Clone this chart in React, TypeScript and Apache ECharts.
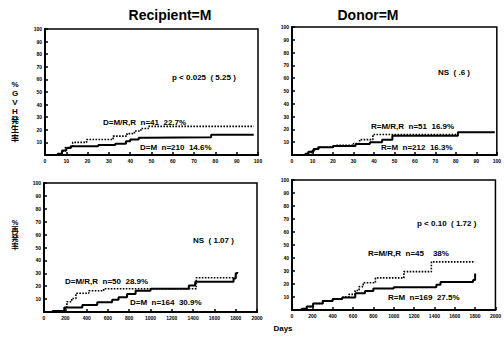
import React, { useEffect, useRef } from 'react';
import * as echarts from 'echarts';

// Panel titles and axis labels
const columnTitles = ['Recipient=M', 'Donor=M'];
const gvhdAxisTitle = ['%', 'G', 'V', 'H', '\u767A', '\u751F', '\u7387'];
const relapseAxisTitle = ['%', '\u518D', '\u767A', '\u7387'];
const xAxisTitle = 'Days';

// Panel 1: GVHD, Recipient=M (days 0-100)
const p1SolidDays = [0, 6, 8, 10, 12, 25, 33, 38, 40, 44, 48, 78, 98];
const p1SolidPct = [0, 1, 3.5, 5.5, 7, 8, 9, 11, 12.3, 13.6, 14, 16, 16];
const p1DotDays = [0, 8, 9.5, 13, 19.5, 32, 38.5, 42, 45, 48.5, 98];
const p1DotPct = [0, 3, 6, 10, 12.3, 15, 17, 19, 21, 22.7, 22.7];

// Panel 2: GVHD, Donor=M (days 0-100)
const p2SolidDays = [0, 6.5, 8, 10.5, 13, 20, 31, 38, 44, 49, 81, 99];
const p2SolidPct = [0, 1, 2.5, 4.6, 6, 7, 8.5, 10, 12, 15, 17.8, 17.8];
const p2DotDays = [0, 8, 10, 12, 21, 30, 33, 39.5, 81];
const p2DotPct = [0, 2, 4, 6, 7.5, 9, 12, 16, 16];

// Panel 3: relapse, Recipient=M (days 0-2000)
const p3SolidDays = [0, 80, 190, 360, 500, 640, 700, 780, 860, 1000, 1360, 1420, 1780, 1800, 1815];
const p3SolidPct = [0, 0.8, 3.5, 5.5, 7.5, 9.5, 11.5, 14, 16.5, 18, 20.5, 23.5, 26, 30, 31];
const p3DotDays = [0, 200, 215, 260, 300, 420, 560, 1420, 1430, 1780, 1800, 1812];
const p3DotPct = [0, 3, 8, 10.5, 14.5, 16.5, 18, 18, 26.5, 27, 29, 29];

// Panel 4: relapse, Donor=M (days 0-2000)
const p4SolidDays = [0, 96, 144, 207, 303, 400, 494, 622, 718, 800, 1000, 1419, 1460, 1780, 1800];
const p4SolidPct = [0, 1, 2.6, 5, 7, 8.5, 9.7, 12.8, 14.6, 16.5, 17.5, 19.5, 21.5, 23, 28];
const p4DotDays = [0, 100, 150, 210, 300, 400, 500, 560, 620, 660, 700, 820, 1100, 1370, 1800];
const p4DotPct = [0, 1, 2.6, 5, 7, 8.5, 10, 12, 15, 18, 21, 24.7, 29.5, 37, 37];

// Annotation texts
const p1Texts = ['p < 0.025  ( 5.25 )', 'D=M/R,R  n=41  22.7%', 'D=M  n=210  14.6%'];
const p2Texts = ['NS  ( .6 )', 'R=M/R,R  n=51  16.9%', 'R=M  n=212  16.3%'];
const p3Texts = ['NS  ( 1.07 )', 'D=M/R,R  n=50  28.9%', 'D=M  n=164  30.9%'];
const p4Texts = ['p < 0.10  ( 1.72 )', 'R=M/R,R  n=45    38%', 'R=M  n=169  27.5%'];

const zip = (xs: number[], ys: number[]) => xs.map((x, i) => [x, ys[i]]);

const FONT = '"Liberation Sans", "Noto Sans CJK JP", sans-serif';

export default function App() {
  const ref = useRef<HTMLDivElement>(null);
  useEffect(() => {
    if (!ref.current) return;
    const chart = echarts.init(ref.current, undefined, { renderer: 'svg' });

    const grids = [
      { left: 45, top: 29, width: 213, height: 126 },
      { left: 292, top: 27, width: 208, height: 128 },
      { left: 44, top: 183, width: 213, height: 129 },
      { left: 292, top: 180, width: 208, height: 130 },
    ].map((g) => ({ ...g, show: true, borderColor: '#000', borderWidth: 1.5, containLabel: false }));

    const axisCommon = {
      type: 'value' as const,
      min: 0,
      axisLine: { show: true, lineStyle: { color: '#000', width: 2 } },
      axisTick: { show: true, inside: true, length: 3, lineStyle: { color: '#000', width: 1.5 } },
      axisLabel: {
        fontSize: 5,
        fontWeight: 'bold' as const,
        color: '#000',
        fontFamily: FONT,
        margin: 3,
        formatter: (v: number) => String(v),
      },
      splitLine: { show: false },
    };
    const maxes = [100, 100, 2000, 2000];
    const intervals = [10, 10, 200, 200];

    const xAxis = maxes.map((m, i) => ({
      ...axisCommon,
      gridIndex: i,
      max: m,
      interval: intervals[i],
    }));
    const yAxis = maxes.map((_, i) => ({
      ...axisCommon,
      gridIndex: i,
      max: 100,
      interval: 10,
      axisLabel: { ...axisCommon.axisLabel, showMinLabel: false, margin: 3 },
    }));

    const solid = (d: number[], p: number[], i: number) => ({
      type: 'line',
      xAxisIndex: i,
      yAxisIndex: i,
      step: 'end',
      showSymbol: false,
      data: zip(d, p),
      lineStyle: { color: '#000', width: 2 },
      z: 3,
    });
    const dotted = (d: number[], p: number[], i: number) => ({
      type: 'line',
      xAxisIndex: i,
      yAxisIndex: i,
      step: 'end',
      showSymbol: false,
      data: zip(d, p),
      lineStyle: { color: '#000', width: 1.6, type: [1.6, 1.4] },
      z: 2,
    });

    const txt = (text: string, x: number, y: number, size = 8, align = 'left') => ({
      type: 'text',
      x,
      y,
      style: {
        text,
        fill: '#000',
        font: `bold ${size}px ${FONT}`,
        textAlign: align,
        align,
        textVerticalAlign: 'middle',
        verticalAlign: 'middle',
      },
    });
    const vtxt = (chars: string[], x: number, y0: number, size: number, lh: number) =>
      chars.map((c, i) => txt(c, x, y0 + i * lh, size, 'center'));

    const graphic = [
      txt(columnTitles[0], 170, 15, 14, 'center'),
      txt(columnTitles[1], 368, 15, 14, 'center'),
      ...vtxt(gvhdAxisTitle, 15, 84, 8, 9),
      ...vtxt(relapseAxisTitle, 15, 222, 7.5, 8),
      txt(xAxisTitle, 283, 328, 8, 'center'),
      txt(p1Texts[0], 172, 77, 8),
      txt(p1Texts[1], 103, 122, 8),
      txt(p1Texts[2], 140, 147, 8),
      txt(p2Texts[0], 438, 72, 8),
      txt(p2Texts[1], 371, 126, 8),
      txt(p2Texts[2], 381, 147, 8),
      txt(p3Texts[0], 193, 240, 8),
      txt(p3Texts[1], 65, 281, 8),
      txt(p3Texts[2], 130, 302, 8),
      txt(p4Texts[0], 417, 223, 8),
      txt(p4Texts[1], 368, 253, 8),
      txt(p4Texts[2], 388, 297, 8),
    ];

    chart.setOption({
      animation: false,
      backgroundColor: '#fff',
      grid: grids,
      xAxis,
      yAxis,
      series: [
        solid(p1SolidDays, p1SolidPct, 0),
        dotted(p1DotDays, p1DotPct, 0),
        solid(p2SolidDays, p2SolidPct, 1),
        dotted(p2DotDays, p2DotPct, 1),
        solid(p3SolidDays, p3SolidPct, 2),
        dotted(p3DotDays, p3DotPct, 2),
        solid(p4SolidDays, p4SolidPct, 3),
        dotted(p4DotDays, p4DotPct, 3),
      ],
      graphic,
    });
    return () => chart.dispose();
  }, []);
  return <div ref={ref} style={{ position: 'fixed', left: 0, top: 0, width: 504, height: 337 }} />;
}
